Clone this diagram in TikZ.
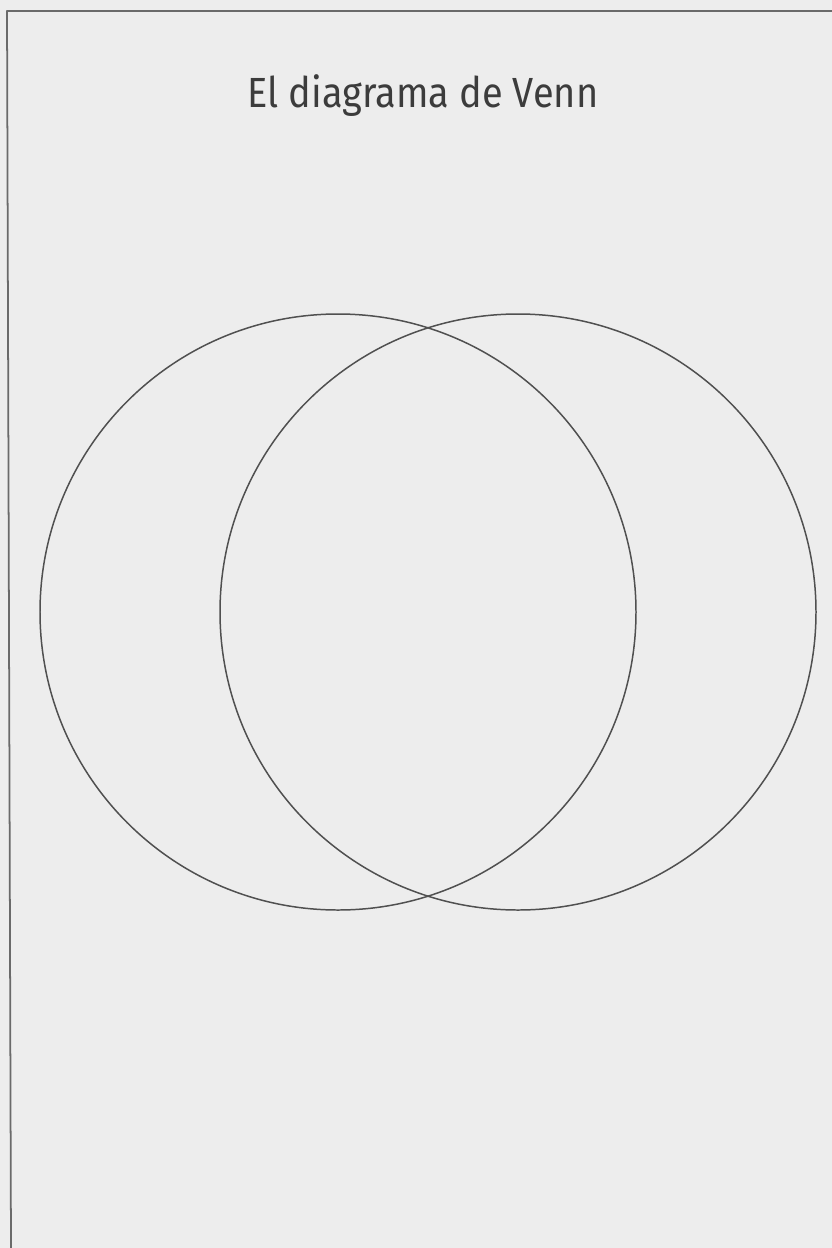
\documentclass[tikz,border=0pt]{standalone}
\usepackage{fontspec}
\newfontfamily\titlefont[FakeStretch=0.9]{Fira Sans}
\definecolor{paper}{HTML}{EDEDED}
\definecolor{ink}{HTML}{3C3C3C}
\definecolor{rule}{HTML}{6A6A6A}
\begin{document}
\begin{tikzpicture}[x=0.02cm,y=-0.02cm,line cap=round,line join=round]
    \fill[paper] (0,0) rectangle (832,1248);
    \useasboundingbox (0,0) rectangle (832,1248);
    \draw[rule,line width=1pt] (832,11) -- (7,11) -- (11,1248);
    \node[anchor=base,text=ink,font=\titlefont\fontsize{24}{28}\selectfont,inner sep=0pt] (title) at (423,107) {El diagrama de Venn};
    \draw[ink!90,line width=0.85pt] (338,612) circle[radius=298];
    \draw[ink!90,line width=0.85pt] (518,612) circle[radius=298];
  \end{tikzpicture}
\end{document}
